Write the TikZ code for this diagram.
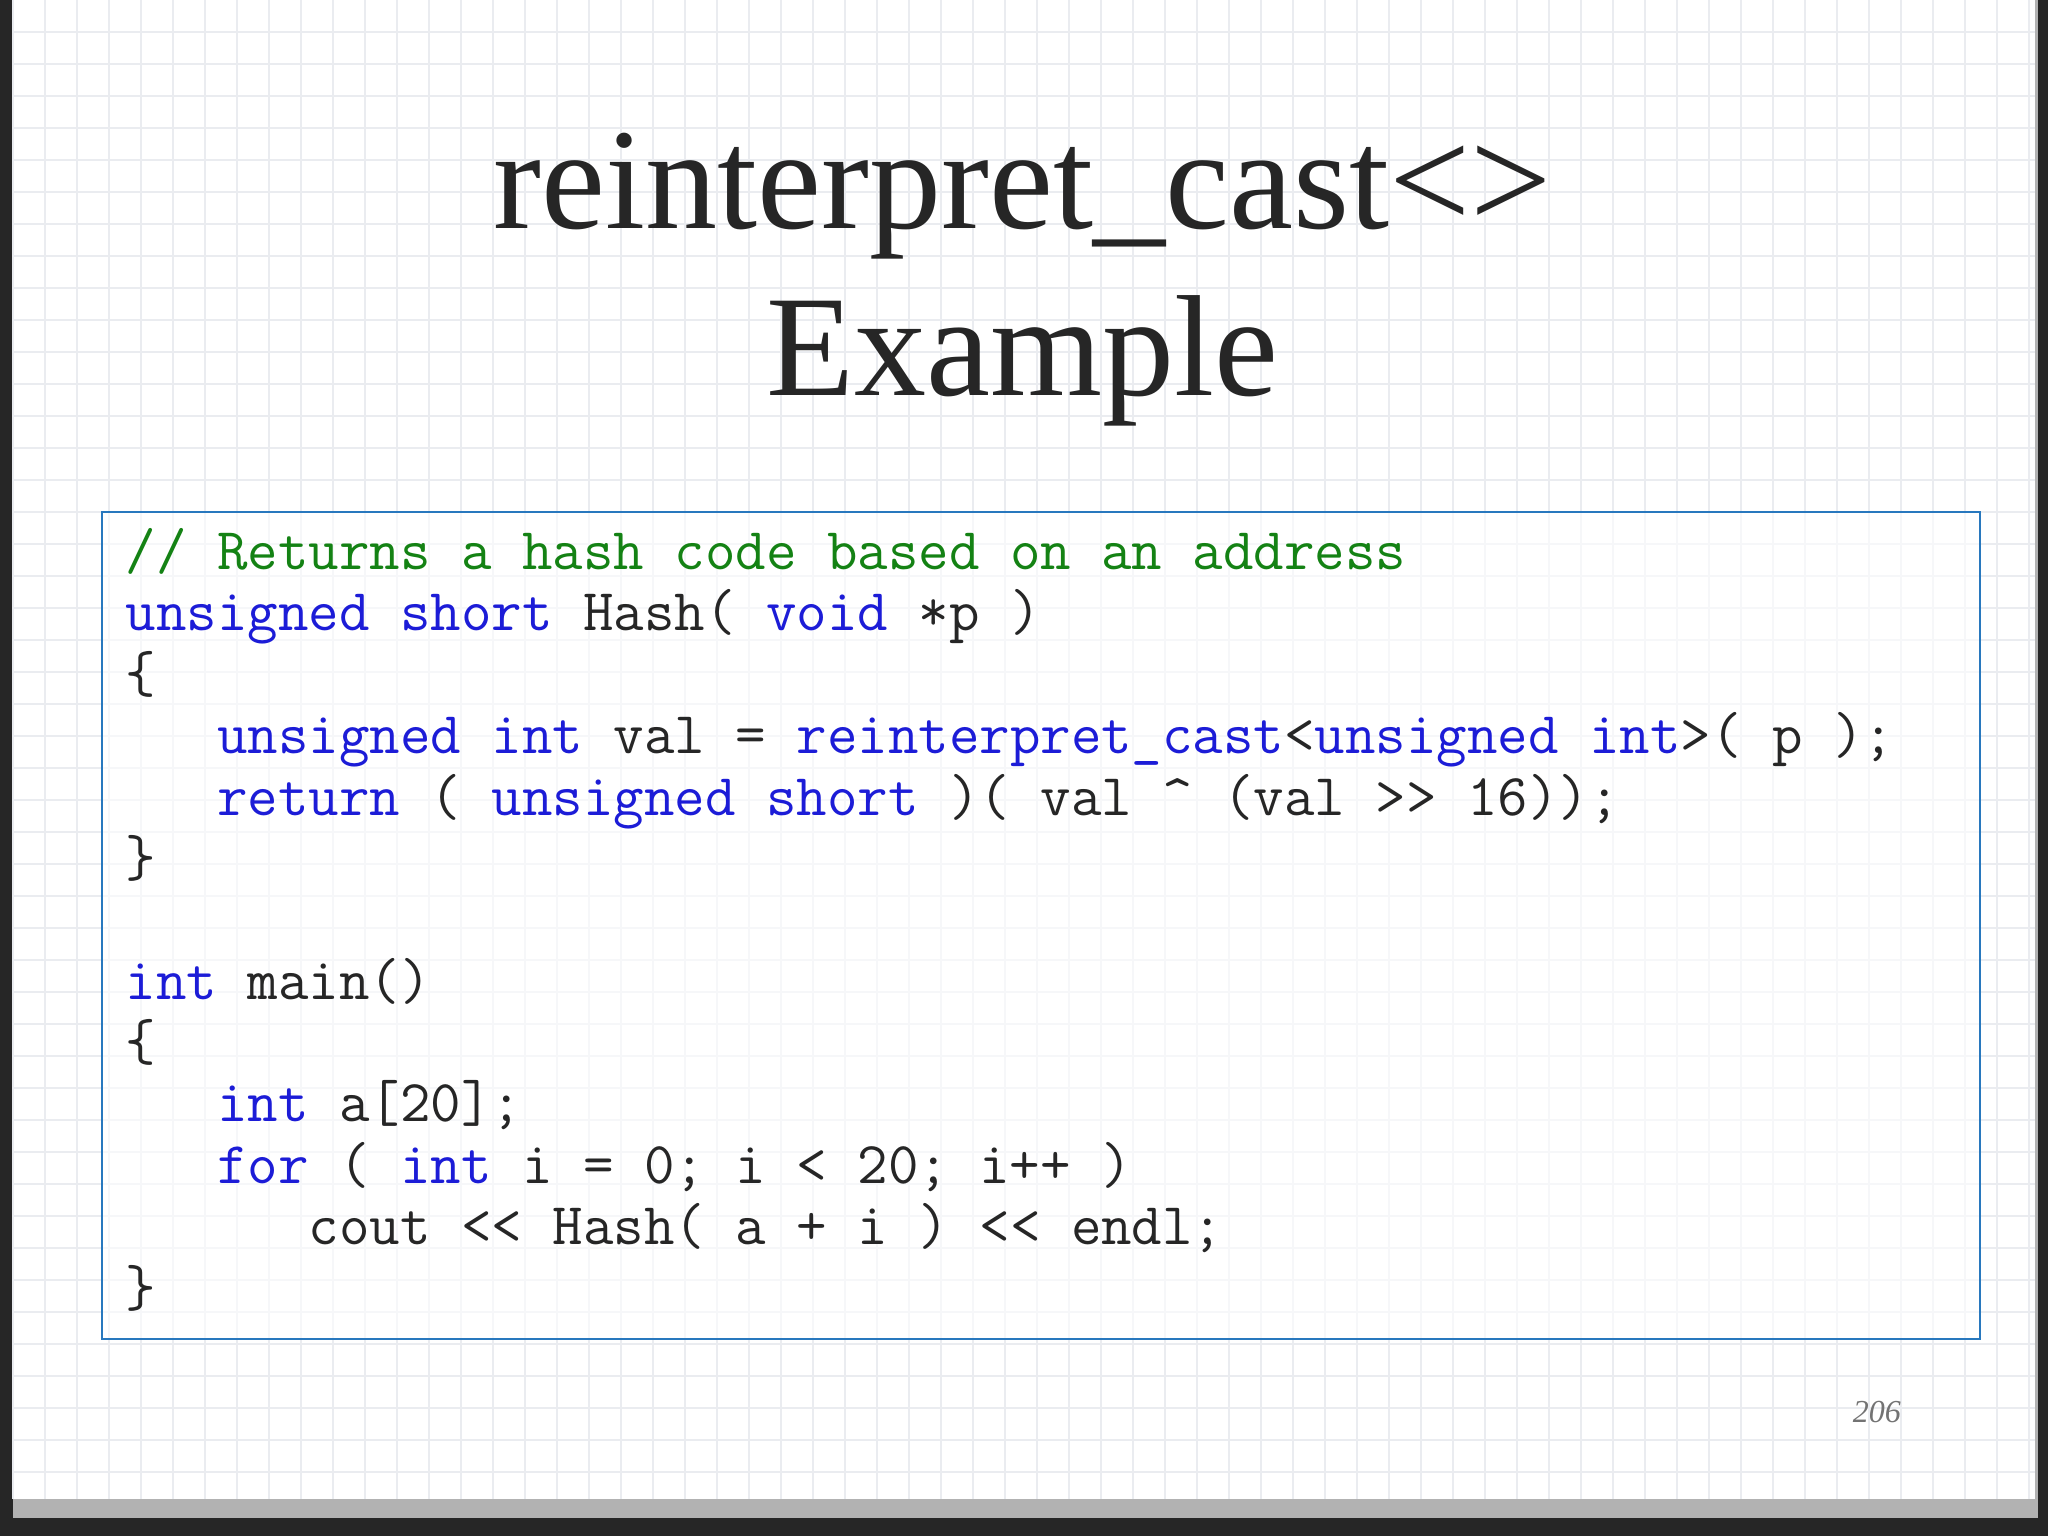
\documentclass[tikz,border=0pt]{standalone}
\usepackage{fontspec}
\setmainfont{Liberation Serif}
\definecolor{kw}{RGB}{28,28,215}
\definecolor{cm}{RGB}{20,130,20}
\definecolor{boxc}{RGB}{40,120,190}
\definecolor{gridc}{RGB}{234,236,240}
\begin{document}
\begin{tikzpicture}[x=0.653pt,y=-0.653pt,
  code/.style={anchor=base west,inner sep=0pt,font=\fontsize{29.6}{32}\ttfamily,text=black!85},
  title/.style={font=\fontsize{72}{80}\selectfont,text=black!85}]
\useasboundingbox (0,0) rectangle (1568,1176);
\fill[black!85] (0,0) rectangle (1568,1176);
\fill[black!30] (10,0) rectangle (1560,1162);
\fill[white] (10,0) rectangle (1558,1148);
\foreach \gx in {0,1,...,63} \draw[gridc,line width=0.6pt] (10+24.5*\gx,0) -- (10+24.5*\gx,1148);
\foreach \gy in {1,2,...,46} \draw[gridc,line width=0.6pt] (10,24.5*\gy) -- (1558,24.5*\gy);
\node[title] (t1) at (783,150) {reinterpret\_cast<>};
\node[title] (t2) at (783,276) {Example};
\draw[boxc,line width=1.2pt,fill=white,fill opacity=0.6] (78,392) rectangle (1516,1025);
\node[code] (l1) at (96,436) {\textcolor{cm}{// Returns a hash code based on an address}};
\node[code] (l2) at (96,483) {\textcolor{kw}{unsigned short} Hash( \textcolor{kw}{void} *p )};
\node[code] (l3) at (96,530) {\{};
\node[code] (l4) at (96,577) {\phantom{xxx}\textcolor{kw}{unsigned int} val = \textcolor{kw}{reinterpret\_cast}<\textcolor{kw}{unsigned int}>( p );};
\node[code] (l5) at (96,624) {\phantom{xxx}\textcolor{kw}{return} ( \textcolor{kw}{unsigned short} )( val \textasciicircum{} (val >> 16));};
\node[code] (l6) at (96,671) {\}};
\node[code] (l8) at (96,765) {\textcolor{kw}{int} main()};
\node[code] (l9) at (96,812) {\{};
\node[code] (l10) at (96,859) {\phantom{xxx}\textcolor{kw}{int} a[20];};
\node[code] (l11) at (96,906) {\phantom{xxx}\textcolor{kw}{for} ( \textcolor{kw}{int} i = 0; i < 20; i++ )};
\node[code] (l12) at (96,953) {\phantom{xxxxxx}cout << Hash( a + i ) << endl;};
\node[code] (l13) at (96,1000) {\}};
\node[font=\fontsize{16}{18}\selectfont\itshape,text=black!55] (pg) at (1437,1081) {206};
\end{tikzpicture}
\end{document}
